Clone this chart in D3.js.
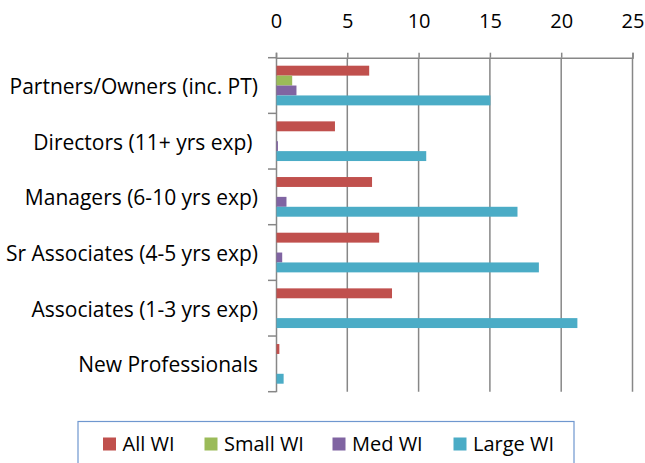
<!DOCTYPE html>
<html>
<head>
<meta charset="utf-8">
<script src="https://cdn.jsdelivr.net/npm/d3@7"></script>
<style>
  body { margin: 0; background: #fff; }
  text { font-family: "Open Sans", sans-serif; fill: #000; white-space: pre; }
</style>
</head>
<body>
<div id="chart"></div>
<script>
// data, top to bottom
const categories = ["Partners/Owners (inc. PT)", "Directors (11+ yrs exp) ", "Managers (6-10 yrs exp)",
    "Sr Associates (4-5 yrs exp)", "Associates (1-3 yrs exp)", "New Professionals"];
const seriesNames = ["All WI", "Small WI", "Med WI", "Large WI"];
const allWI = [6.5, 4.1, 6.7, 7.2, 8.1, 0.2];
const smallWI = [1.1, 0, 0, 0, 0, 0];
const medWI = [1.4, 0.1, 0.7, 0.4, 0, 0];
const largeWI = [15.0, 10.5, 16.9, 18.4, 21.1, 0.5];
const xTicks = [0, 5, 10, 15, 20, 25];
const colors = ["#C0504D", "#9BBB59", "#8064A2", "#4BACC6"];

const seriesValues = [allWI, smallWI, medWI, largeWI];

const width = 645;
const height = 463;
const plotLeft = 276, plotRight = 632.5, plotTop = 57.7, plotBottom = 391.7;

const svg = d3.select("#chart")
    .append("svg")
    .attr("width", width)
    .attr("height", height);

const x = d3.scaleLinear().domain([0, 25]).range([plotLeft, plotRight]);
const y = d3.scaleBand().domain(categories).range([plotTop, plotBottom]).paddingInner(0).paddingOuter(0);
const inner = d3.scaleBand().domain(seriesNames).range([8, y.bandwidth() - 8]);

// gridlines
svg.append("g")
    .selectAll("line")
    .data(xTicks.slice(1))
    .join("line")
    .attr("x1", d => x(d)).attr("x2", d => x(d))
    .attr("y1", plotTop).attr("y2", plotBottom)
    .attr("stroke", "#878787")
    .attr("stroke-width", 1.5);

// top axis
const xAxis = svg.append("g")
    .attr("transform", `translate(0,${plotTop})`)
    .call(d3.axisTop(x).tickValues(xTicks).tickSize(5).tickPadding(25));
xAxis.select(".domain").attr("stroke", "#878787").attr("stroke-width", 1.5);
xAxis.selectAll(".tick line").attr("stroke", "#878787").attr("stroke-width", 1.5);
xAxis.selectAll("text").style("font-size", "20px").attr("fill", "#000");

// left axis
const yAxis = svg.append("g")
    .attr("transform", `translate(${plotLeft},0)`)
    .call(d3.axisLeft(y).tickSize(0).tickPadding(18));
yAxis.select(".domain").attr("stroke", "#878787").attr("stroke-width", 1.5);
yAxis.selectAll("text").style("font-size", "21px").attr("dy", "0.4em").attr("fill", "#000");

// category boundary ticks
svg.append("g")
    .selectAll("line")
    .data(d3.range(categories.length + 1))
    .join("line")
    .attr("x1", plotLeft - 8).attr("x2", plotLeft)
    .attr("y1", i => plotTop + i * y.bandwidth())
    .attr("y2", i => plotTop + i * y.bandwidth())
    .attr("stroke", "#878787")
    .attr("stroke-width", 1.5);

// bars
seriesNames.forEach((name, si) => {
    svg.append("g")
        .selectAll("rect")
        .data(categories.map((c, i) => ({ c, v: seriesValues[si][i] })))
        .join("rect")
        .attr("x", x(0) + 0.5)
        .attr("y", d => y(d.c) + inner(name))
        .attr("width", d => Math.max(0, x(d.v) - x(0)))
        .attr("height", inner.bandwidth())
        .attr("fill", colors[si]);
});

// legend
const legend = svg.append("g");
legend.append("rect")
    .attr("x", 78).attr("y", 421.5)
    .attr("width", 496).attr("height", 50)
    .attr("fill", "none")
    .attr("stroke", "#6F97CF")
    .attr("stroke-width", 1.2);

const legendX = [103, 204.5, 332.5, 453.5];
seriesNames.forEach((name, i) => {
    legend.append("rect")
        .attr("x", legendX[i]).attr("y", 437.5)
        .attr("width", 13).attr("height", 13)
        .attr("fill", colors[i]);
    legend.append("text")
        .attr("x", legendX[i] + 19.5).attr("y", 444)
        .attr("dy", "0.35em")
        .style("font-size", "20px")
        .text(name);
});
</script>
</body>
</html>
